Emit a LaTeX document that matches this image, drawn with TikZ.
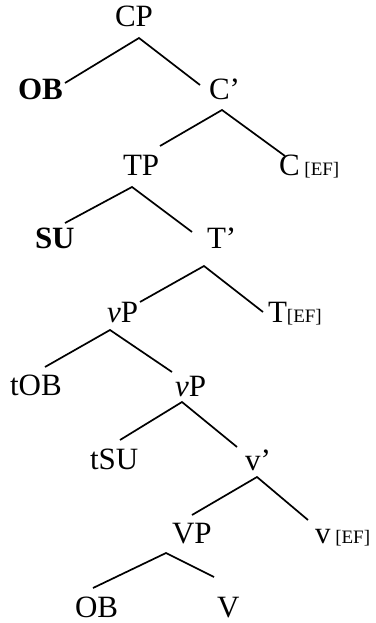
\documentclass[tikz,border=0pt]{standalone}
\usepackage{fontspec}
\setmainfont{Liberation Serif}
\newcommand{\bigsz}{\fontsize{31}{34}\selectfont}
\newcommand{\efsz}{\fontsize{19}{21}\selectfont}
\begin{document}
\begin{tikzpicture}[x=1pt,y=-1pt,
  lbl/.style={anchor=base west,inner sep=0pt,outer sep=0pt,font=\bigsz},
  edge/.style={line width=1.7pt}]
\useasboundingbox (0,0) rectangle (375,623);
% labels
\node[lbl] (cp) at (115,27) {CP};
\node[lbl] (ob1) at (18,100) {\textbf{OB}};
\node[lbl] (cbar) at (209,100) {C’};
\node[lbl] (tp) at (123,175) {TP};
\node[lbl] (c) at (279,175) {C\efsz\ [EF]};
\node[lbl] (su) at (35,248) {\textbf{SU}};
\node[lbl] (tbar) at (207,248) {T’};
\node[lbl] (vp1) at (107,322) {\textit{v}P};
\node[lbl] (t) at (268,322) {T\efsz[EF]};
\node[lbl] (tob) at (10,395) {tOB};
\node[lbl] (vp2) at (175,396) {\textit{v}P};
\node[lbl] (tsu) at (90,469) {tSU};
\node[lbl] (vbar) at (245,470) {v’};
\node[lbl] (bigvp) at (172,543) {VP};
\node[lbl] (v) at (315,543) {v\efsz\ [EF]};
\node[lbl] (ob2) at (75,617) {OB};
\node[lbl] (bigv) at (217,617) {V};
% branch points
\coordinate (cp-a) at (139,38);
\coordinate (ob1-e) at (65,83);
\coordinate (cbar-e) at (200,85);
\coordinate (cbar-a) at (222,110);
\coordinate (tp-e) at (160,146);
\coordinate (c-e) at (285,156);
\coordinate (tp-a) at (132,187);
\coordinate (su-e) at (65,223);
\coordinate (tbar-e) at (192,232);
\coordinate (tbar-a) at (204,266);
\coordinate (vp1-e) at (140,302);
\coordinate (t-e) at (263,312);
\coordinate (vp1-a) at (110,330);
\coordinate (tob-e) at (45,367);
\coordinate (vp2-e) at (172,372);
\coordinate (vp2-a) at (182,402);
\coordinate (tsu-e) at (120,440);
\coordinate (vbar-e) at (237,447);
\coordinate (vbar-a) at (257,477);
\coordinate (bigvp-e) at (192,515);
\coordinate (v-e) at (308,520);
\coordinate (bigvp-a) at (166,553);
\coordinate (ob2-e) at (93,588);
\coordinate (bigv-e) at (214,577);
% connectors
\draw[edge] (ob1-e) -- (cp-a) -- (cbar-e);
\draw[edge] (tp-e) -- (cbar-a) -- (c-e);
\draw[edge] (su-e) -- (tp-a) -- (tbar-e);
\draw[edge] (vp1-e) -- (tbar-a) -- (t-e);
\draw[edge] (tob-e) -- (vp1-a) -- (vp2-e);
\draw[edge] (tsu-e) -- (vp2-a) -- (vbar-e);
\draw[edge] (bigvp-e) -- (vbar-a) -- (v-e);
\draw[edge] (ob2-e) -- (bigvp-a) -- (bigv-e);
\end{tikzpicture}
\end{document}
